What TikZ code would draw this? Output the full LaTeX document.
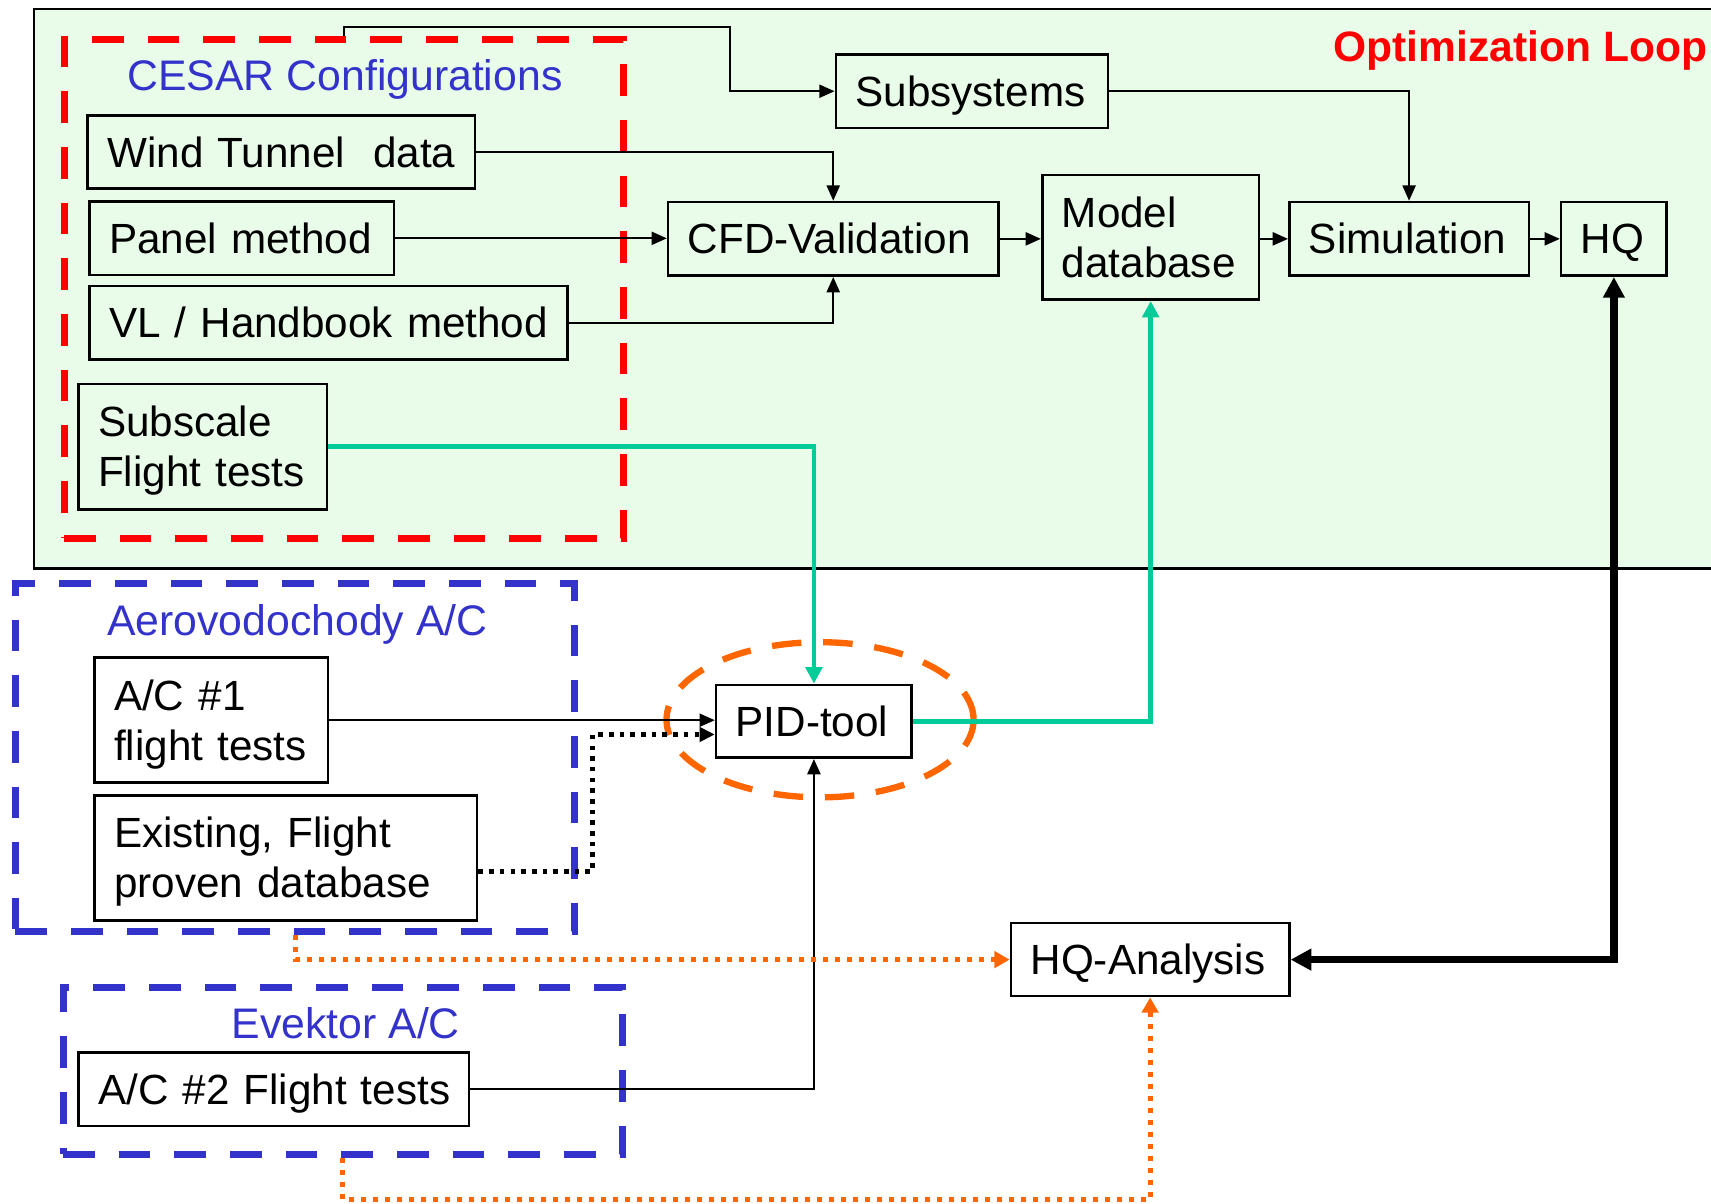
\documentclass[tikz,border=0pt]{standalone}
\usepackage{fontspec}
\setmainfont{Liberation Sans}
\usetikzlibrary{arrows.meta,shapes.geometric}
\definecolor{bggreen}{RGB}{233,252,233}
\definecolor{cblue}{RGB}{51,51,204}
\definecolor{cred}{RGB}{255,0,0}
\definecolor{corange}{RGB}{255,102,0}
\definecolor{cteal}{RGB}{0,204,153}
\newcommand\bxfont{\fontsize{38.7}{46}\selectfont}
\newcommand\lbfont{\fontsize{39.2}{46}\selectfont}
\hbadness=10000 \hfuzz=50pt
\begin{document}
\begin{tikzpicture}[x=1pt,y=-1pt,
  box/.style={draw, line width=2.4pt, inner xsep=18pt, inner ysep=0pt, align=left,
    font=\bxfont, text height=27.6pt, text depth=0pt},
  bx/.style n args={2}{box, text width=#1pt-36pt, minimum height=#2pt},
  bxx/.style n args={2}{box, text width=#1pt-36pt, minimum height=#2pt, text depth=46pt},
  grp/.style={draw, line width=6.3pt, dash pattern=on 29pt off 22pt, inner sep=0pt},
  lbl/.style={inner sep=0pt, anchor=base west, font=\lbfont, text=cblue},
  conn/.style={line width=1.8pt, -{Triangle[length=14pt,width=12pt]}},
  gconn/.style={draw=cteal, line width=4.4pt, -{Triangle[length=15pt,width=15pt]}},
  bdot/.style={line width=4.2pt, dash pattern=on 4.2pt off 5.6pt, -{Triangle[length=14pt,width=13pt]}},
  odot/.style={draw=corange, line width=4.8pt, dash pattern=on 4.8pt off 6.2pt, -{Triangle[length=14pt,width=15pt]}},
  thick/.style={line width=7pt, {Triangle[length=19pt,width=19pt]}-{Triangle[length=19pt,width=19pt]}}
]
\clip (0,0) rectangle (1568,1103);
% background of the optimization loop
\fill[bggreen] (31,8.5) rectangle (1590,521);
\draw[line width=2.2pt] (1590,8.5) -- (31,8.5) -- (31,521) -- (1590,521);
\node[inner sep=0pt, anchor=base west, font=\fontsize{39}{46}\selectfont\bfseries, text=cred] (optl) at (1222,56) {Optimization Loop};

% groups
\node[grp, draw=cred, minimum width=512.8pt, minimum height=457pt] (cesar) at (315.2,264.8) {};
\node[grp, draw=cblue, minimum width=512.7pt, minimum height=318.8pt] (aero) at (270.5,694.4) {};
\node[grp, draw=cblue, minimum width=512.8pt, minimum height=153.2pt] (evek) at (314.2,981.2) {};
\node[lbl] (cesarl) at (116.6,83) {CESAR Configurations};
\node[lbl] (aerol) at (98,582.1) {Aerovodochody A/C};
\node[lbl] (evekl) at (212.1,951.6) {Evektor A/C};

% ellipse around PID tool
\node[draw=corange, line width=5.8pt, dash pattern=on 27pt off 20pt, ellipse, inner sep=0pt,
  minimum width=281.4pt, minimum height=142.2pt] (ring) at (751.5,659.6) {};

% boxes
\node[bx={249.4}{67.5}] (subsys) at (890.7,83.6) {\mbox{Subsystems}};
\node[bx={355}{67.1}] (wind) at (257.9,139.4) {\mbox{Wind Tunnel\ \ data}};
\node[bx={279.1}{67.1}] (panel) at (221.5,218.4) {\mbox{Panel method}};
\node[bx={438.4}{67.1}] (vl) at (301.1,295.7) {\mbox{VL / Handbook method}};
\node[bxx={227.7}{114.9}] (subscale) at (185.8,409.4) {\mbox{Subscale}\\\mbox{Flight tests}};
\node[bx={302.6}{67.5}] (cfd) at (763.6,218.9) {\mbox{CFD-Validation}};
\node[bxx={198.8}{114.2}] (model) at (1054.5,217.5) {\mbox{Model}\\\mbox{database}};
\node[bx={219.5}{67.5}] (sim) at (1291.3,218.9) {\mbox{Simulation}};
\node[bx={96.7}{67.5}] (hq) at (1479,218.9) {\mbox{HQ}};
\node[bx={179.3}{66.7}] (pid) at (745.9,661) {\mbox{PID-tool}};
\node[bxx={214.1}{114.4}] (ac1) at (193.6,660) {\mbox{A/C \#1}\\\mbox{flight tests}};
\node[bxx={350.8}{114.4}] (exist) at (261.9,786.1) {\mbox{Existing, Flight}\\\mbox{proven database}};
\node[bx={255.1}{66.9}] (hqa) at (1054,879.4) {\mbox{HQ-Analysis}};
\node[bx={357.9}{67}] (ac2) at (250.9,998.3) {\mbox{A/C \#2 Flight tests}};

% turning points
\coordinate (t1) at (668.6,24.7);
\coordinate (dj) at (543,673.1);
\coordinate (ebot) at (314.2,1099.5);

% connectors
\draw[conn] (cesar.north) |- (t1) |- (subsys.west);
\draw[conn] (wind.east) -| (cfd.north);
\draw[conn] (panel.east) -- (panel.east -| cfd.west);
\draw[conn] (vl.east) -| (cfd.south);
\draw[conn] (cfd.east) -- (cfd.east -| model.west);
\draw[conn] (model.east |- sim.west) -- (sim.west);
\draw[conn] (subsys.east) -| (sim.north);
\draw[conn] (sim.east) -- (hq.west);
\draw[gconn] (subscale.east) -| (pid.north);
\draw[gconn] (pid.east) -| (model.south);
\draw[conn] (ac1.east) -- (ac1.east -| pid.west);
\draw[bdot] ([yshift=-12.4pt]exist.east) -| (dj) -- (dj -| pid.west);
\draw[conn] (ac2.east) -| (pid.south);
\draw[thick] (hq.south) |- (hqa.east);
\draw[odot] (aero.south) |- (hqa.west);
\draw[odot] (evek.south) -- (ebot) -| (hqa.south);
\end{tikzpicture}
\end{document}
